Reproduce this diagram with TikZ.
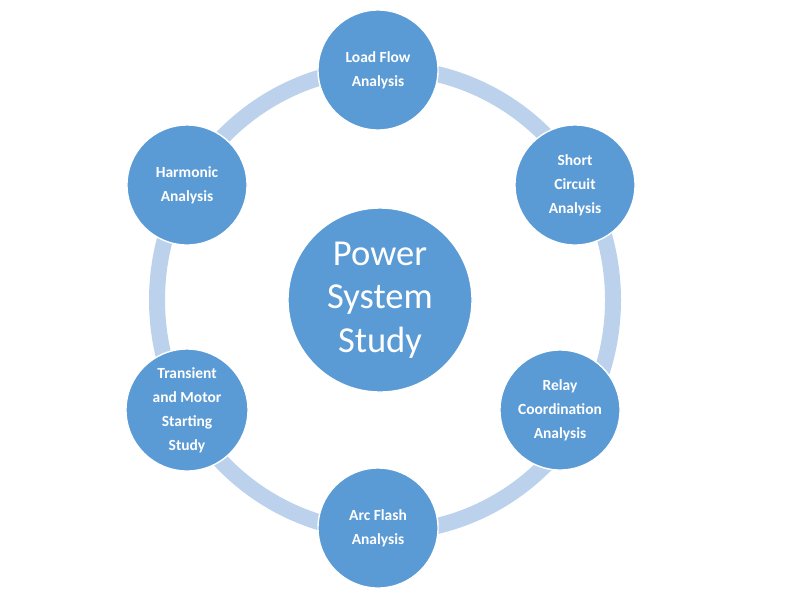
\documentclass[tikz,border=0pt]{standalone}
\usepackage{fontspec}
\setmainfont{Carlito}
\definecolor{nodeblue}{HTML}{5B9BD5}
\definecolor{ringblue}{HTML}{BCD2EC}
\tikzset{
  study/.style={circle, fill=nodeblue, draw=white, line width=1pt, minimum size=3cm,
    align=center, text=white, font=\bfseries\fontsize{11}{17}\selectfont},
  hub/.style={circle, fill=nodeblue, draw=white, line width=1pt, minimum size=4.6cm,
    align=center, text=white, font=\fontsize{26}{31}\selectfont}
}
\begin{document}
\begin{tikzpicture}[x=0.025cm,y=-0.025cm]
\useasboundingbox (0,0) rectangle (800,600);
% ring behind the studies
\draw[ringblue, line width=0.4cm] (385,300) ellipse (228 and 232);
\node[hub] (hub) at (380,300) {Power\\System\\Study};
\node[study] (load) at (378,70) {Load Flow\\Analysis};
\node[study] (short) at (575,185) {Short\\Circuit\\Analysis};
\node[study] (relay) at (560,410) {Relay\\Coordination\\Analysis};
\node[study] (arc) at (378,528) {Arc Flash\\Analysis};
\node[study] (trans) at (187,410) {Transient\\and Motor\\Starting\\Study};
\node[study] (harm) at (187,185) {Harmonic\\Analysis};
\end{tikzpicture}
\end{document}
